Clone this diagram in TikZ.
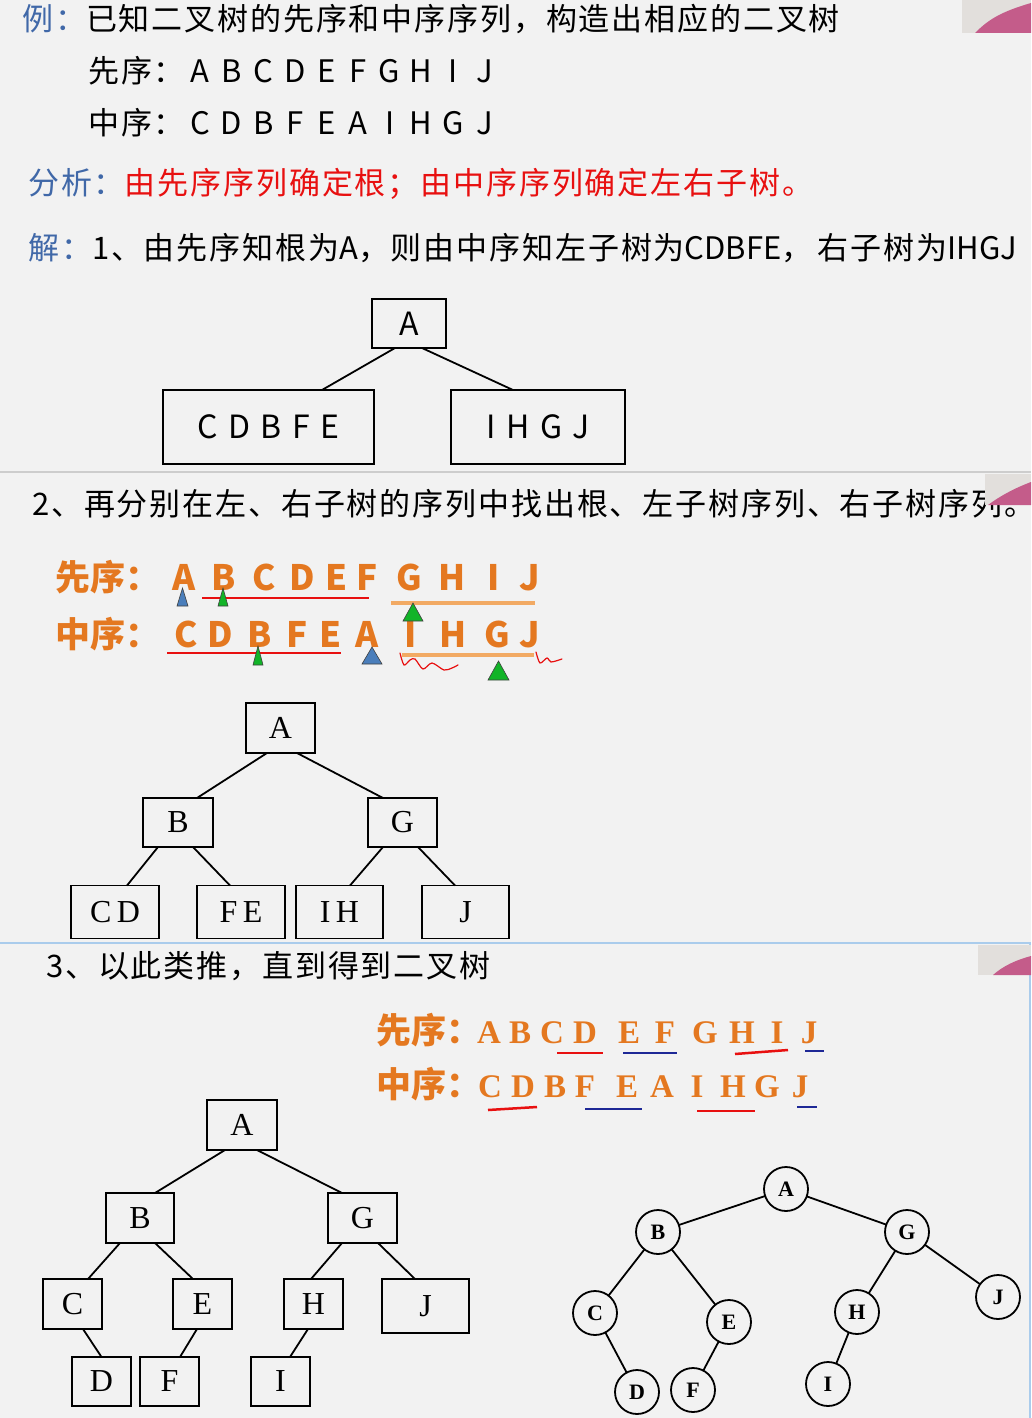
\documentclass[tikz,border=0pt]{standalone}
\usepackage{fontspec}
\setmainfont{Liberation Serif}
\newfontfamily\cjk[LetterSpace=6]{Noto Sans CJK SC}
\newfontfamily\cjkplain{Noto Sans CJK SC}
\definecolor{bggray}{RGB}{242,242,242}
\definecolor{labblue}{RGB}{64,104,168}
\definecolor{anared}{RGB}{232,16,16}
\definecolor{ordorange}{RGB}{228,120,32}
\definecolor{lineorange}{RGB}{242,170,100}
\definecolor{triblue}{RGB}{74,126,187}
\definecolor{trigreen}{RGB}{18,180,40}
\definecolor{sepgray}{RGB}{205,205,205}
\definecolor{sepblue}{RGB}{170,204,236}
\definecolor{ulblue}{RGB}{30,40,150}
\definecolor{camgray}{RGB}{226,223,220}
\definecolor{campink}{RGB}{196,92,138}
\newcommand\fsz[1]{\fontsize{#1}{#1}\selectfont}
\tikzset{
  txt/.style={inner sep=0pt, font=\cjk\fsz{31}},
  ordtxt/.style={inner sep=0pt, text=ordorange, font=\cjkplain\bfseries\fsz{35}},
  ordlet/.style={inner sep=0pt, text=ordorange, font=\rmfamily\bfseries\fsz{33}},
  sansbox/.style={draw, line width=1.8pt, inner sep=0pt, outer sep=0pt, font=\cjkplain\fsz{32}},
  serifbox/.style={draw, line width=1.7pt, inner sep=0pt, outer sep=0pt, font=\rmfamily\fsz{32}},
  cnode/.style={circle, draw, line width=1.8pt, minimum size=44pt, inner sep=0pt, outer sep=0pt, font=\rmfamily\bfseries\fsz{22}},
  branch/.style={line width=1.8pt},
  bluetri/.style={fill=triblue, draw=black!75, line width=0.6pt},
  greentri/.style={fill=trigreen, draw=black!75, line width=0.6pt}
}
\begin{document}
\begin{tikzpicture}[x=1pt, y=-1pt]
  \useasboundingbox (0,0) rectangle (1031,1418);
  \fill[bggray] (0,0) rectangle (1031,1418);

  \node[txt, anchor=base west] (ex) at (22,31) {{\color{labblue}例：}已知二叉树的先序和中序序列，构造出相应的二叉树};
  \node[txt, anchor=base west] (pre1) at (88,83) {先序：};
  \node[txt, anchor=base west] (in1) at (88,135) {中序：};
  \foreach \l [count=\i] in {A,B,C,D,E,F,G,H,I,J}
    \node[txt, anchor=base] (p1\i) at (200+31.6*\i-31.6,83) {\l};
  \foreach \l [count=\i] in {C,D,B,F,E,A,I,H,G,J}
    \node[txt, anchor=base] (m1\i) at (200+31.6*\i-31.6,135) {\l};
  \node[txt, anchor=base west] (ana) at (28,194) {{\color{labblue}分析：}{\color{anared}由先序序列确定根；由中序序列确定左右子树。}};
  \node[txt, anchor=base west] (sol) at (28,259) {{\color{labblue}解：}1、由先序知根为{\cjkplain A}，则由中序知左子树为{\cjkplain CDBFE}，\,右子树为{\cjkplain IHGJ}};

  \node[sansbox, minimum width=74, minimum height=49] (t1a) at (409,323.5) {A};
  \node[sansbox, minimum width=211, minimum height=74] (t1l) at (268.5,427) {C\,\,D\,\,B\,\,F\,\,E};
  \node[sansbox, minimum width=174, minimum height=74] (t1r) at (538,427) {I\,\,H\,\,G\,\,J};
  \draw[branch] ([xshift=-14pt]t1a.south) -- ([xshift=53.5pt]t1l.north);
  \draw[branch] ([xshift=13pt]t1a.south) -- ([xshift=-25pt]t1r.north);

  \draw[line width=2pt, sepgray] (0,472) -- (1031,472);

  \node[txt, anchor=base west] (step2) at (32,515) {2、再分别在左、右子树的序列中找出根、左子树序列、右子树序列。};
  \node[ordtxt, anchor=base west] (pre2) at (55,590) {先序：};
  \node[ordtxt, anchor=base west] (in2) at (55,647) {中序：};
  \foreach \x/\l [count=\i] in {184/A,224/B,264/C,302/D,337/E,367/F,409/G,452/H,494/I,530/J}
    \node[ordtxt, anchor=base] (p2\i) at (\x,590) {\l};
  \foreach \x/\l [count=\i] in {186/C,220/D,260/B,297/F,331/E,367/A,411/I,453/H,497/G,530/J}
    \node[ordtxt, anchor=base] (m2\i) at (\x,647) {\l};
  \draw[anared, line width=1.6pt] (202,598) -- (369,598);
  \draw[lineorange, line width=4pt] (391,603) -- (535,603);
  \draw[anared, line width=1.6pt] (167,653) -- (341,653);
  \draw[lineorange, line width=4pt] (402,655) -- (534,655);
  \filldraw[bluetri] (177,606) -- (182.5,588) -- (188,606) -- cycle;
  \filldraw[greentri] (218,606) -- (223,588) -- (228,606) -- cycle;
  \filldraw[greentri] (403,621) -- (413,603) -- (423,621) -- cycle;
  \filldraw[greentri] (253,665) -- (258,646) -- (263,665) -- cycle;
  \filldraw[bluetri] (362,664) -- (372,647) -- (382,664) -- cycle;
  \filldraw[greentri] (488,680) -- (498.5,661) -- (509,680) -- cycle;
  \draw[anared, line width=1.2pt, line cap=round] plot[smooth] coordinates {(400,653) (404,665) (410,660) (415,659) (423,669) (432,663) (444,670) (452,668) (458,665)};
  \draw[anared, line width=1.2pt, line cap=round] plot[smooth] coordinates {(536,652) (540,663) (547,658) (551,662) (562,659)};

  \node[serifbox, minimum width=69, minimum height=50] (t2a) at (280.5,728) {A};
  \node[serifbox, minimum width=70, minimum height=49] (t2b) at (178,822.5) {B};
  \node[serifbox, minimum width=69, minimum height=49] (t2g) at (402.5,822.5) {G};
  \node[serifbox, minimum width=88, minimum height=53] (t2cd) at (115,912) {C\,D};
  \node[serifbox, minimum width=88, minimum height=53] (t2fe) at (241,912) {F\,E};
  \node[serifbox, minimum width=87, minimum height=53] (t2ih) at (339.5,912) {I\,H};
  \node[serifbox, minimum width=87, minimum height=53] (t2j) at (465.5,912) {J};
  \draw[branch] ([xshift=-13.5pt]t2a.south) -- ([xshift=19pt]t2b.north);
  \draw[branch] ([xshift=16.5pt]t2a.south) -- ([xshift=-19.5pt]t2g.north);
  \draw[branch] ([xshift=-20pt]t2b.south) -- ([xshift=12pt]t2cd.north);
  \draw[branch] ([xshift=15pt]t2b.south) -- ([xshift=-11pt]t2fe.north);
  \draw[branch] ([xshift=-19.5pt]t2g.south) -- ([xshift=10.5pt]t2ih.north);
  \draw[branch] ([xshift=15.5pt]t2g.south) -- ([xshift=-10.5pt]t2j.north);

  \draw[line width=2pt, sepblue] (0,943) -- (1031,943);
  \draw[line width=2pt, sepblue] (1030,943) -- (1030,1418);

  \node[txt, anchor=base west] (step3) at (46,977) {3、以此类推，直到得到二叉树};
  \node[ordtxt, anchor=base west] (pre3) at (376,1043) {先序：};
  \node[ordtxt, anchor=base west] (in3) at (376,1097) {中序：};
  \foreach \x/\l [count=\i] in {489/A,520/B,552/C,585/D,629/E,665/F,705/G,742/H,777/I,809/J}
    \node[ordlet, anchor=base] (p3\i) at (\x,1043) {\l};
  \foreach \x/\l [count=\i] in {490/C,523/D,555/B,585/F,627/E,662/A,697/I,733/H,767/G,800/J}
    \node[ordlet, anchor=base] (m3\i) at (\x,1097) {\l};
  \draw[anared, line width=2.5pt] (557,1053) -- (603,1053);
  \draw[ulblue, line width=2.5pt] (623,1053) -- (677,1053);
  \draw[anared, line width=2.5pt] (735,1054) -- (788,1050);
  \draw[ulblue, line width=2.5pt] (805,1051) -- (824,1051);
  \draw[anared, line width=2.5pt] (488,1110) -- (537,1107);
  \draw[ulblue, line width=2.5pt] (585,1109) -- (642,1109);
  \draw[anared, line width=2.5pt] (697,1111) -- (755,1111);
  \draw[ulblue, line width=2.5pt] (797,1107) -- (817,1107);

  \node[serifbox, minimum width=70, minimum height=50] (t3a) at (242,1125) {A};
  \node[serifbox, minimum width=68, minimum height=50] (t3b) at (140,1218) {B};
  \node[serifbox, minimum width=69, minimum height=50] (t3g) at (362.5,1218) {G};
  \node[serifbox, minimum width=59, minimum height=50] (t3c) at (72.5,1304) {C};
  \node[serifbox, minimum width=59, minimum height=50] (t3e) at (202.5,1304) {E};
  \node[serifbox, minimum width=59, minimum height=50] (t3h) at (313.5,1304) {H};
  \node[serifbox, minimum width=87, minimum height=54] (t3j) at (425.5,1306) {J};
  \node[serifbox, minimum width=59, minimum height=49] (t3d) at (101.5,1381.5) {D};
  \node[serifbox, minimum width=59, minimum height=49] (t3f) at (169.5,1381.5) {F};
  \node[serifbox, minimum width=59, minimum height=49] (t3i) at (280.5,1381.5) {I};
  \draw[branch] ([xshift=-17pt]t3a.south) -- ([xshift=15pt]t3b.north);
  \draw[branch] ([xshift=15pt]t3a.south) -- ([xshift=-20.5pt]t3g.north);
  \draw[branch] ([xshift=-20pt]t3b.south) -- ([xshift=15.5pt]t3c.north);
  \draw[branch] ([xshift=15pt]t3b.south) -- ([xshift=-9.5pt]t3e.north);
  \draw[branch] ([xshift=-20.5pt]t3g.south) -- ([xshift=-2.5pt]t3h.north);
  \draw[branch] ([xshift=15.5pt]t3g.south) -- ([xshift=-10.5pt]t3j.north);
  \draw[branch] ([xshift=10.5pt]t3c.south) -- (t3d.north);
  \draw[branch] ([xshift=-5.5pt]t3e.south) -- ([xshift=10.5pt]t3f.north);
  \draw[branch] ([xshift=-5.5pt]t3h.south) -- ([xshift=9.5pt]t3i.north);

  \node[cnode] (ca) at (786,1189) {A};
  \node[cnode] (cb) at (658,1232) {B};
  \node[cnode] (cg) at (907,1232) {G};
  \node[cnode] (cc) at (595,1313) {C};
  \node[cnode] (ce) at (729,1322) {E};
  \node[cnode] (ch) at (857,1312) {H};
  \node[cnode] (cj) at (998,1297) {J};
  \node[cnode] (cd) at (637,1392) {D};
  \node[cnode] (cf) at (693,1390) {F};
  \node[cnode] (ci) at (828,1384) {I};
  \draw[branch] (ca) -- (cb);
  \draw[branch] (ca) -- (cg);
  \draw[branch] (cb) -- (cc);
  \draw[branch] (cb) -- (ce);
  \draw[branch] (cc) -- (cd);
  \draw[branch] (ce) -- (cf);
  \draw[branch] (cg) -- (ch);
  \draw[branch] (cg) -- (cj);
  \draw[branch] (ch) -- (ci);

  \fill[camgray] (962,0) rectangle (1031,33);
  \fill[campink] (975,33) .. controls (988,20) and (1000,12) .. (1031,3) -- (1031,33) -- cycle;
  \fill[camgray] (985,474) rectangle (1031,505);
  \fill[campink] (988,505) .. controls (1000,496) and (1015,488) .. (1031,482) -- (1031,505) -- cycle;
  \fill[camgray] (978,945) rectangle (1031,975);
  \fill[campink] (993,975) .. controls (1003,966) and (1016,960) .. (1031,956) -- (1031,975) -- cycle;
\end{tikzpicture}
\end{document}
